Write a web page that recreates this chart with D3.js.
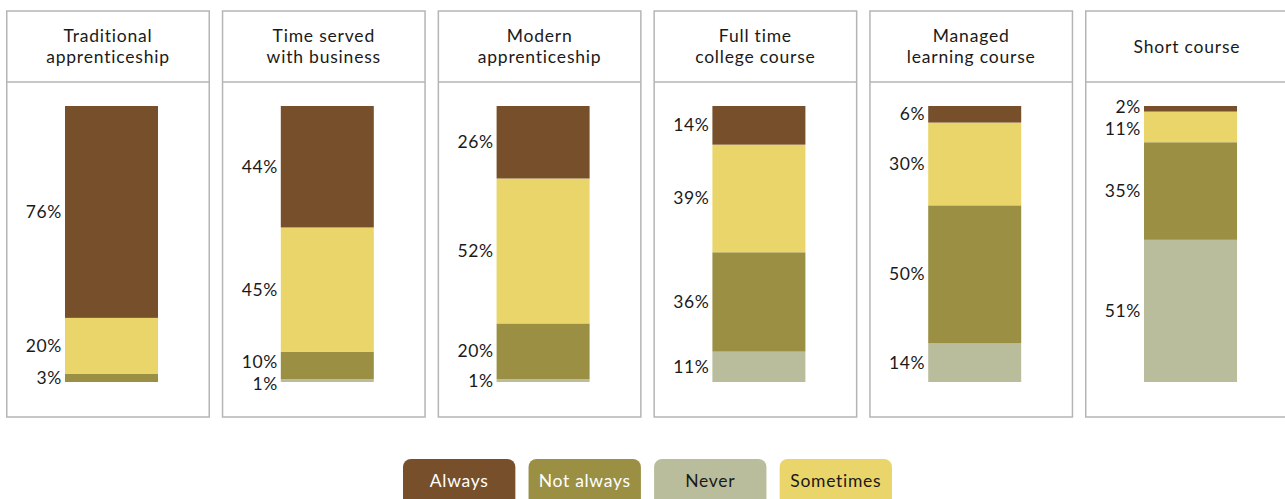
<!DOCTYPE html>
<html>
<head>
<meta charset="utf-8">
<script src="https://cdn.jsdelivr.net/npm/d3@7"></script>
<style>
  html, body { margin: 0; padding: 0; background: #fff; }
  svg { display: block; }
  text { font-family: Lato, "Open Sans", sans-serif; }
</style>
</head>
<body>
<svg id="chart" width="1285" height="499"></svg>
<script>
// Course types (header lines)
const categories = [
  ["Traditional", "apprenticeship"],
  ["Time served", "with business"],
  ["Modern", "apprenticeship"],
  ["Full time", "college course"],
  ["Managed", "learning course"],
  ["Short course"]
];

// Share of responses per course type (%)
const always    = [76, 44, 26, 14, 6, 2];
const sometimes = [20, 45, 52, 39, 30, 11];
const notAlways = [3, 10, 20, 36, 50, 35];
const never     = [0, 1, 1, 11, 14, 51];

// Stack order from bottom to top, legend order left to right
const stackKeys  = ["Never", "Not always", "Sometimes", "Always"];
const legendKeys = ["Always", "Not always", "Never", "Sometimes"];

const colors = {
  "Always": "#774f2a",
  "Not always": "#9a8f43",
  "Never": "#b9bd9b",
  "Sometimes": "#e9d56a"
};
const legendText = {
  "Always": "#ffffff",
  "Not always": "#ffffff",
  "Never": "#1a1a1a",
  "Sometimes": "#1a1a1a"
};

const rows = categories.map((c, i) => ({
  name: c.join(" "),
  lines: c,
  "Always": always[i],
  "Sometimes": sometimes[i],
  "Not always": notAlways[i],
  "Never": never[i]
}));

const svg = d3.select("#chart");

// Panel placement
const x = d3.scaleBand()
  .domain(rows.map(d => d.name))
  .range([6, 1289])
  .paddingInner(0.0547)
  .paddingOuter(0);

const panelTop = 11, headerBottom = 82, panelBottom = 417;
const barOffset = 59, barWidth = 93;

// Each bar fills the full height (shares normalised to the total)
const y = d3.scaleLinear().domain([0, 1]).range([382, 106]);

const series = d3.stack().keys(stackKeys).offset(d3.stackOffsetExpand)(rows);

const panels = svg.selectAll("g.panel")
  .data(rows)
  .join("g")
  .attr("class", "panel")
  .attr("transform", d => `translate(${x(d.name)},0)`);

panels.append("rect")
  .attr("x", 0.75).attr("y", panelTop)
  .attr("width", x.bandwidth() - 1.5).attr("height", panelBottom - panelTop)
  .attr("fill", "none").attr("stroke", "#b5b5b5").attr("stroke-width", 1.5);

panels.append("line")
  .attr("x1", 0.75).attr("x2", x.bandwidth() - 0.75)
  .attr("y1", headerBottom).attr("y2", headerBottom)
  .attr("stroke", "#b5b5b5").attr("stroke-width", 1.5);

panels.append("text")
  .attr("text-anchor", "middle")
  .attr("font-size", 17.5)
  .attr("letter-spacing", 0.8)
  .attr("fill", "#1a1a1a")
  .each(function(d) {
    const t = d3.select(this);
    const lh = 21.5;
    const first = (panelTop + headerBottom) / 2 + 6 - (d.lines.length - 1) * lh / 2;
    d.lines.forEach((ln, j) => {
      t.append("tspan").attr("x", x.bandwidth() / 2).attr("y", first + j * lh).text(ln);
    });
  });

// Bar segments
series.forEach(s => {
  panels.append("rect")
    .attr("x", barOffset)
    .attr("width", barWidth)
    .attr("y", (d, i) => y(s[i][1]))
    .attr("height", (d, i) => y(s[i][0]) - y(s[i][1]))
    .attr("fill", colors[s.key]);
});

// Value labels: centred on each segment, nudged apart when crowded
panels.each(function(d, i) {
  const labels = [];
  series.forEach(s => {
    const v = d[s.key];
    if (v > 0) labels.push({ v, pos: y((s[i][0] + s[i][1]) / 2) });
  });
  labels.sort((a, b) => b.pos - a.pos);
  const minGap = 22;
  for (let k = 1; k < labels.length; k++) {
    const gap = labels[k - 1].pos - labels[k].pos;
    if (gap < minGap) {
      const shift = (minGap - gap) / 2;
      labels[k - 1].pos += shift;
      labels[k].pos -= shift;
    }
  }
  d3.select(this).selectAll("text.val")
    .data(labels)
    .join("text")
    .attr("class", "val")
    .attr("x", barOffset - 3)
    .attr("y", l => l.pos + 6)
    .attr("text-anchor", "end")
    .attr("font-size", 17.5)
    .attr("letter-spacing", 0.6)
    .attr("fill", "#1a1a1a")
    .text(l => l.v + "%");
});

// Legend
const lx = d3.scaleBand().domain(legendKeys).range([403, 892]).paddingInner(0.105);
const legend = svg.selectAll("g.leg")
  .data(legendKeys)
  .join("g")
  .attr("class", "leg")
  .attr("transform", k => `translate(${lx(k)},459)`);

legend.append("rect")
  .attr("width", lx.bandwidth()).attr("height", 50)
  .attr("rx", 8).attr("ry", 8)
  .attr("fill", k => colors[k]);

legend.append("text")
  .attr("x", lx.bandwidth() / 2).attr("y", 28)
  .attr("text-anchor", "middle")
  .attr("font-size", 17.5)
  .attr("letter-spacing", 0.7)
  .attr("fill", k => legendText[k])
  .text(k => k);
</script>
</body>
</html>
